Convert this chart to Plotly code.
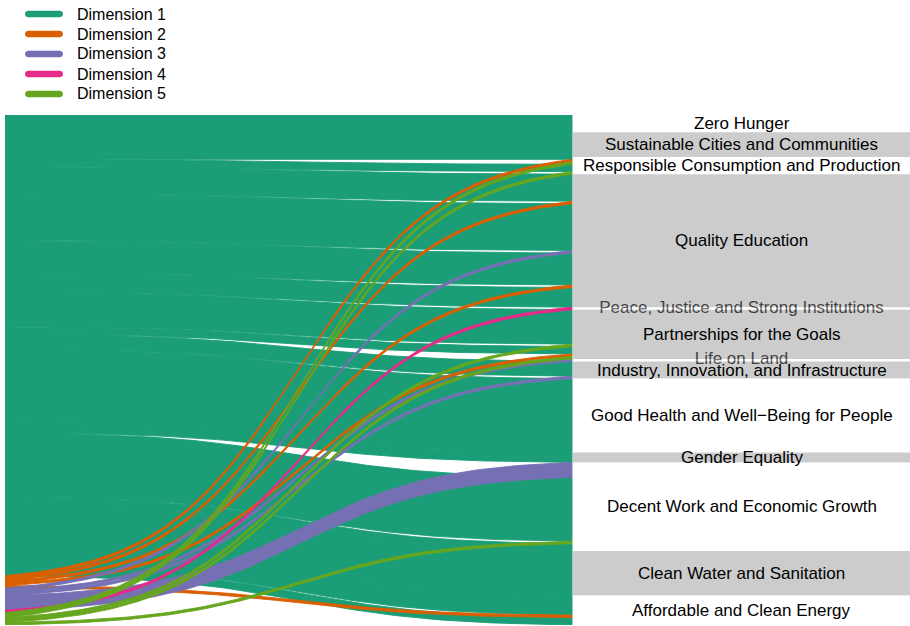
import numpy as np
import plotly.graph_objects as go

# ---------------- data ----------------
dimensions = ["Dimension 1", "Dimension 2", "Dimension 3", "Dimension 4", "Dimension 5"]
dim_colors = ["#1B9E77", "#D95F02", "#7570B3", "#E7298A", "#66A61E"]

# SDG categories, top to bottom on the right axis
sdg_labels = [
    "Zero Hunger",
    "Sustainable Cities and Communities",
    "Responsible Consumption and Production",
    "Quality Education",
    "Peace, Justice and Strong Institutions",
    "Partnerships for the Goals",
    "Life on Land",
    "Industry, Innovation, and Infrastructure",
    "Good Health and Well\u2212Being for People",
    "Gender Equality",
    "Decent Work and Economic Growth",
    "Clean Water and Sanitation",
    "Affordable and Clean Energy",
]

# flows in the order they are stacked on the right axis (top to bottom)
flow_sdg = [0, 1, 2, 2, 2, 2, 2, 3, 3, 3, 3, 3, 3, 3, 4, 5, 5, 5, 5, 5, 6, 7, 7, 8, 9,
            10, 10, 10, 10, 11, 12, 12, 12]
flow_dim = [0, 0, 0, 1, 4, 0, 4, 0, 1, 0, 2, 0, 1, 0, 3, 0, 4, 0, 1, 4, 2, 0, 2, 0, 0,
            2, 0, 4, 0, 0, 0, 1, 0]
flow_count = [7, 10, 1, 1, 1, 3, 1, 11, 1, 19, 1, 13, 1, 8, 1, 14, 1, 3, 1, 1, 1, 6, 1, 30, 4,
              6, 26, 1, 3, 18, 8, 1, 3]

# ---------------- layout constants ----------------
W, H = 910, 626
ML, MR, MT, MB = 5, 0, 115, 1
PLOT_W = W - ML - MR
PLOT_H = H - MT - MB
FLOW_PX = 567            # horizontal length of ribbons in px
XMAX = PLOT_W / FLOW_PX
BOX_X0 = (FLOW_PX + 1) / FLOW_PX
FONT = "Liberation Sans, Arial, sans-serif"

counts = np.array(flow_count, dtype=float)
N = counts.sum()

# right-axis stacking
r_top = np.concatenate([[0], np.cumsum(counts)[:-1]])
r_bot = r_top + counts
# left-axis stacking: by dimension, then by right order
order = sorted(range(len(counts)), key=lambda i: (flow_dim[i], i))
l_top = np.zeros(len(counts))
acc = 0.0
for i in order:
    l_top[i] = acc
    acc += counts[i]
l_bot = l_top + counts

t = np.linspace(0, 1, 100)
k, c = 8.0, 0.52
s = 1 / (1 + np.exp(-k * (t - c)))
s0 = 1 / (1 + np.exp(k * c))
s1 = 1 / (1 + np.exp(-k * (1 - c)))
s = (s - s0) / (s1 - s0)

fig = go.Figure()

for d, name in enumerate(dimensions):
    xs, ys = [], []
    for i in order:
        if flow_dim[i] != d:
            continue
        top = l_top[i] + (r_top[i] - l_top[i]) * s
        bot = l_bot[i] + (r_bot[i] - l_bot[i]) * s
        xs += list(t) + list(t[::-1]) + [t[0], None]
        ys += list(top) + list(bot[::-1]) + [top[0], None]
    fig.add_trace(go.Scatter(
        x=xs, y=ys, mode="lines", fill="toself", name=name,
        fillcolor=dim_colors[d], line=dict(color=dim_colors[d], width=0.9),
        hoverinfo="skip", showlegend=False,
    ))

# category boxes and labels
sdg_tot = np.zeros(len(sdg_labels))
for i, j in enumerate(flow_sdg):
    sdg_tot[j] += counts[i]
sdg_top = np.concatenate([[0], np.cumsum(sdg_tot)[:-1]])
sdg_bot = sdg_top + sdg_tot
nlab = len(sdg_labels)
xc = (BOX_X0 + XMAX) / 2

faded_x, faded_y, faded_t = [], [], []
for j, lab in enumerate(sdg_labels):
    gray = (nlab - 1 - j) % 2 == 1
    fig.add_shape(type="rect", xref="x", yref="y", layer="above",
                  x0=BOX_X0, x1=XMAX, y0=sdg_top[j], y1=sdg_bot[j],
                  fillcolor="rgba(142,142,142,0.45)" if gray else "rgba(255,255,255,0.45)",
                  line=dict(width=0))
    yc = (sdg_top[j] + sdg_bot[j]) / 2
    if sdg_tot[j] <= 1:
        faded_x.append(xc); faded_y.append(yc); faded_t.append(lab)
    else:
        fig.add_annotation(x=xc, y=yc, text=lab, showarrow=False,
                           xanchor="center", yanchor="middle",
                           font=dict(size=17, color="black", family=FONT))

fig.add_trace(go.Scatter(x=faded_x, y=faded_y, text=faded_t, mode="text",
                         textposition="middle center",
                         textfont=dict(size=17, color="black", family=FONT),
                         hoverinfo="skip", showlegend=False, cliponaxis=False))

# legend (drawn at the top-left, above the plot)
LEG_X0, LEG_X1, LEG_R = 25, 63, 3.2
LEG_TEXT_X = 75
LEG_Y0, LEG_DY = 14, 20
kk = 0.5523 * LEG_R


def capsule(x0, x1, r):
    return (f"M{x0 + r},{-r} L{x1 - r},{-r} "
            f"C{x1 - r + kk},{-r} {x1},{-kk} {x1},0 "
            f"C{x1},{kk} {x1 - r + kk},{r} {x1 - r},{r} "
            f"L{x0 + r},{r} "
            f"C{x0 + r - kk},{r} {x0},{kk} {x0},0 "
            f"C{x0},{-kk} {x0 + r - kk},{-r} {x0 + r},{-r} Z")


for d, name in enumerate(dimensions):
    py = LEG_Y0 + d * LEG_DY
    ypaper = 1 - (py - MT) / PLOT_H
    fig.add_shape(type="path", xref="paper", yref="paper",
                  xsizemode="pixel", ysizemode="pixel",
                  xanchor=-ML / PLOT_W, yanchor=ypaper,
                  path=capsule(LEG_X0, LEG_X1, LEG_R),
                  fillcolor=dim_colors[d], line=dict(width=0))
    fig.add_annotation(xref="paper", yref="paper", x=(LEG_TEXT_X - ML) / PLOT_W, y=ypaper,
                       text=name, showarrow=False, xanchor="left", yanchor="middle",
                       font=dict(size=16, color="black", family=FONT))

fig.update_layout(
    width=W, height=H,
    margin=dict(l=ML, r=MR, t=MT, b=MB, pad=0, autoexpand=False),
    paper_bgcolor="white", plot_bgcolor="white",
    font=dict(family=FONT, size=16, color="black"),
    xaxis=dict(range=[0, XMAX], visible=False, fixedrange=True),
    yaxis=dict(range=[N, 0], visible=False, fixedrange=True),
    showlegend=False,
)

fig.write_html("out.html",
               config={"displayModeBar": False, "staticPlot": True},
               post_script="document.body.style.margin='0px';"
                           "document.body.style.overflow='hidden';")
